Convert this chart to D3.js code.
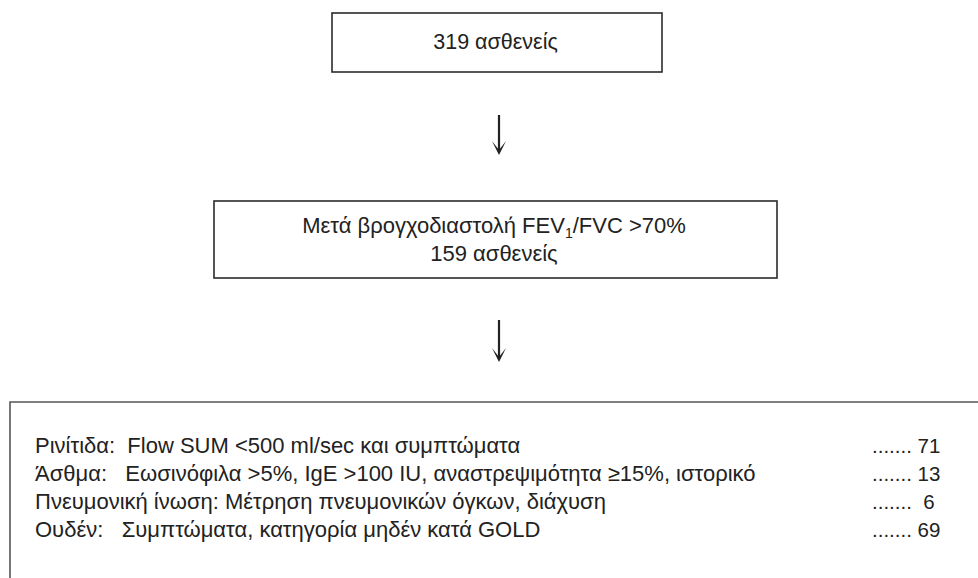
<!DOCTYPE html>
<html>
<head>
<meta charset="utf-8">
<script src="https://cdn.jsdelivr.net/npm/d3@7"></script>
<style>
  body { margin: 0; background: #fff; }
  text { font-family: "Liberation Sans", Arial, Helvetica, sans-serif; fill: #222; white-space: pre; }
</style>
</head>
<body>
<div class="chart"></div>
<script>
// flow steps (top boxes)
const stepLines = [
  ["319 ασθενείς"],
  ["Μετά βρογχοδιαστολή FEV|1|/FVC >70%", "159 ασθενείς"]
];
// outcome rows in the bottom box
const outcomeLabels = [
  "Ρινίτιδα:  Flow SUM <500 ml/sec και συμπτώματα",
  "Άσθμα:   Εωσινόφιλα >5%, IgE >100 IU, αναστρεψιμότητα ≥15%, ιστορικό",
  "Πνευμονική ίνωση: Μέτρηση πνευμονικών όγκων, διάχυση",
  "Ουδέν:   Συμπτώματα, κατηγορία μηδέν κατά GOLD"
];
const outcomeCounts = [71, 13, 6, 69];

const svg = d3.select(".chart")
  .append("svg")
  .attr("width", 978)
  .attr("height", 578);

// box geometry + first baseline / font size of each box
const boxes = [
  { x: 332, y: 13, w: 330, h: 59, base: 48.5, fs: 21.5 },
  { x: 214, y: 201, w: 563, h: 77, base: 233, fs: 22 }
];

const stepG = svg.selectAll("g.step")
  .data(stepLines)
  .join("g")
  .attr("class", "step");

stepG.append("rect")
  .attr("x", (d, i) => boxes[i].x)
  .attr("y", (d, i) => boxes[i].y)
  .attr("width", (d, i) => boxes[i].w)
  .attr("height", (d, i) => boxes[i].h)
  .attr("fill", "none")
  .attr("stroke", "#2b2b2b")
  .attr("stroke-width", 1.6);

stepG.each(function(lines, i) {
  const b = boxes[i];
  const lineH = 28;
  const t = d3.select(this).selectAll("text")
    .data(lines)
    .join("text")
    .attr("x", b.x + b.w / 2 - 1.5)
    .attr("y", (d, j) => b.base + j * lineH)
    .attr("text-anchor", "middle")
    .attr("font-size", b.fs);
  // "|" marks the subscript part
  t.each(function(str) {
    const parts = str.split("|");
    const el = d3.select(this);
    parts.forEach((p, k) => {
      const ts = el.append("tspan").text(p);
      if (k === 1) ts.attr("font-size", 14).attr("dy", 5);
      if (k === 2) ts.attr("dy", -5);
    });
  });
});

// arrows
const arrowYs = [[115, 155], [320, 362]];
const arrowX = 499;
arrowYs.forEach(([y1, y2]) => {
  svg.append("line")
    .attr("x1", arrowX).attr("x2", arrowX)
    .attr("y1", y1).attr("y2", y2 - 3)
    .attr("stroke", "#222")
    .attr("stroke-width", 2.2);
  svg.append("path")
    .attr("d", `M${arrowX - 7},${y2 - 14} L${arrowX},${y2} L${arrowX + 7},${y2 - 14} L${arrowX},${y2 - 5} Z`)
    .attr("fill", "#222");
});

// bottom box (runs off the page at right and bottom)
svg.append("path")
  .attr("d", "M10,590 V402 H990")
  .attr("fill", "none")
  .attr("stroke", "#555")
  .attr("stroke-width", 1.6);

const yRow = d3.scalePoint()
  .domain(outcomeLabels)
  .range([453, 537]);

svg.selectAll("text.label")
  .data(outcomeLabels)
  .join("text")
  .attr("class", "label")
  .attr("x", 35)
  .attr("y", d => yRow(d))
  .attr("font-size", 22)
  .text(d => d);

svg.selectAll("text.count")
  .data(outcomeCounts)
  .join("text")
  .attr("class", "count")
  .attr("x", 872)
  .attr("y", (d, i) => yRow(outcomeLabels[i]))
  .attr("font-size", 20.5)
  .text(d => "....... " + (d < 10 ? " " : "") + d);
</script>
</body>
</html>
